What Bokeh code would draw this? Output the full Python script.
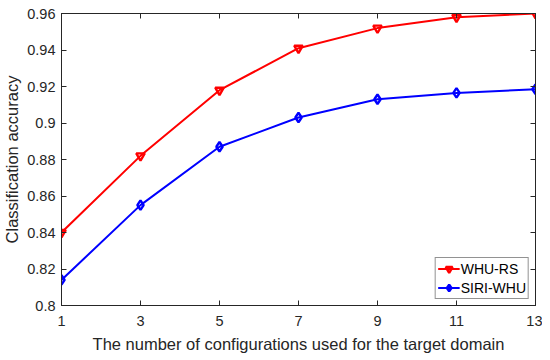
from bokeh.plotting import figure
from bokeh.models import LinearAxis, FixedTicker, NumeralTickFormatter, Range1d, Legend
from bokeh.embed import file_html
from bokeh.resources import INLINE

x_vals = [1, 3, 5, 7, 9, 11, 13]
whu_rs = [0.840, 0.882, 0.918, 0.941, 0.952, 0.958, 0.960]
siri_whu = [0.814, 0.855, 0.887, 0.903, 0.913, 0.9165, 0.9185]
x_ticks = [1, 3, 5, 7, 9, 11, 13]
y_ticks = [0.8, 0.82, 0.84, 0.86, 0.88, 0.9, 0.92, 0.94, 0.96]

FONT = "Liberation Sans"
AX = "#262626"

p = figure(frame_width=474, frame_height=292, output_backend="svg", toolbar_location=None,
           x_range=Range1d(1, 13), y_range=Range1d(0.8, 0.96),
           min_border_left=61, min_border_right=7, min_border_top=13, min_border_bottom=40)
p.background_fill_color = "white"
p.border_fill_color = "white"
p.outline_line_color = AX
p.outline_line_width = 1
p.grid.visible = False

l1 = p.line(x_vals, whu_rs, line_color="#FF0000", line_width=2)
m1 = p.scatter(x_vals, whu_rs, marker="inverted_triangle", size=8.5, line_color="#FF0000",
               fill_alpha=0, line_width=2.4)
l2 = p.line(x_vals, siri_whu, line_color="#0000FF", line_width=2)
m2 = p.scatter(x_vals, siri_whu, marker="diamond", size=9.5, line_color="#0000FF",
               fill_alpha=0, line_width=2.4)

for ax in (p.xaxis[0], p.yaxis[0]):
    ax.axis_line_color = AX
    ax.major_tick_line_color = AX
    ax.major_tick_in = 5
    ax.major_tick_out = 0
    ax.minor_tick_line_color = None
    ax.major_label_text_font = FONT
    ax.major_label_text_font_size = "14.5px"
    ax.major_label_text_color = AX
    ax.axis_label_text_font = FONT
    ax.axis_label_text_font_size = "16.5px"
    ax.axis_label_text_font_style = "normal"
    ax.axis_label_text_color = AX

p.xaxis[0].ticker = FixedTicker(ticks=x_ticks)
p.yaxis[0].ticker = FixedTicker(ticks=y_ticks)
p.yaxis[0].formatter = NumeralTickFormatter(format="0.[00]")
p.xaxis[0].axis_label = "The number of configurations used for the target domain"
p.yaxis[0].axis_label = "Classification accuracy"
p.xaxis[0].major_label_standoff = 10
p.yaxis[0].major_label_standoff = 6
p.xaxis[0].axis_label_standoff = 6
p.yaxis[0].axis_label_standoff = 3

top = LinearAxis(ticker=FixedTicker(ticks=x_ticks), major_label_text_font_size="0px",
                 major_tick_in=5, major_tick_out=0, minor_tick_line_color=None,
                 axis_line_color=AX, major_tick_line_color=AX, major_label_standoff=0)
right = LinearAxis(ticker=FixedTicker(ticks=y_ticks), major_label_text_font_size="0px",
                   major_tick_in=5, major_tick_out=0, minor_tick_line_color=None,
                   axis_line_color=AX, major_tick_line_color=AX, major_label_standoff=0)
p.add_layout(top, "above")
p.add_layout(right, "right")

legend = Legend(items=[("WHU-RS", [l1, m1]), ("SIRI-WHU", [l2, m2])],
                location="bottom_right", label_text_font=FONT, label_text_font_size="14px",
                label_text_color="black", border_line_color=AX, border_line_width=1,
                background_fill_color="white", background_fill_alpha=1,
                glyph_width=22, glyph_height=17, label_height=17, label_standoff=1,
                spacing=2, padding=2, margin=6)
p.add_layout(legend, "center")

open("out.html", "w").write(file_html(p, INLINE))
